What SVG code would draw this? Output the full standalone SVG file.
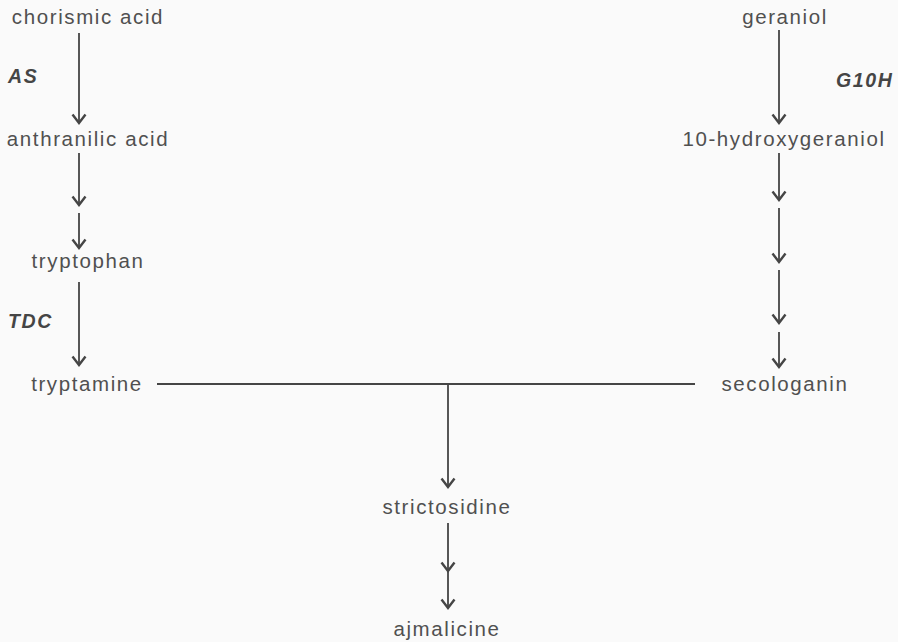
<svg xmlns="http://www.w3.org/2000/svg" width="898" height="642" viewBox="0 0 898 642">
<style>
.t{font-family:"Liberation Sans",Arial,sans-serif;font-size:20.5px;letter-spacing:1.6px;fill:#505050;text-anchor:middle}
.e{font-family:"Liberation Sans",Arial,sans-serif;font-size:19.5px;letter-spacing:1.6px;fill:#454545;font-weight:bold;font-style:italic}
.c{fill:none;stroke:#454545;stroke-width:1.8}
</style>
<defs>
<marker id="ah" markerUnits="userSpaceOnUse" markerWidth="20" markerHeight="20" refX="0" refY="0" orient="auto" overflow="visible">
<path d="M-8.5,-6.5 L0,0 L-8.5,6.5" fill="none" stroke="#454545" stroke-width="2.4" stroke-linejoin="miter"/>
</marker>
</defs>
<rect width="898" height="642" fill="#fafafa"/>
<g id="connectors">
<line class="c" x1="79" y1="33" x2="79" y2="123" marker-end="url(#ah)"/>
<line class="c" x1="79" y1="153" x2="79" y2="205" marker-end="url(#ah)"/>
<line class="c" x1="79" y1="213" x2="79" y2="248" marker-end="url(#ah)"/>
<line class="c" x1="79" y1="282" x2="79" y2="365" marker-end="url(#ah)"/>
<line class="c" x1="779" y1="30" x2="779" y2="123" marker-end="url(#ah)"/>
<line class="c" x1="779" y1="153" x2="779" y2="200" marker-end="url(#ah)"/>
<line class="c" x1="779" y1="208" x2="779" y2="262" marker-end="url(#ah)"/>
<line class="c" x1="779" y1="270" x2="779" y2="323" marker-end="url(#ah)"/>
<line class="c" x1="779" y1="332" x2="779" y2="367" marker-end="url(#ah)"/>
<line class="c" x1="157" y1="384" x2="695" y2="384"/>
<line class="c" x1="448" y1="384" x2="448" y2="487" marker-end="url(#ah)"/>
<polyline class="c" points="448,523 448,571 448,608" marker-mid="url(#ah)" marker-end="url(#ah)"/>
</g>
<g id="chorismic-acid"><text class="t" x="88" y="24">chorismic acid</text></g>
<g id="AS"><text class="e" x="8" y="83">AS</text></g>
<g id="anthranilic-acid"><text class="t" x="88" y="146">anthranilic acid</text></g>
<g id="tryptophan"><text class="t" x="88" y="268">tryptophan</text></g>
<g id="TDC"><text class="e" x="8" y="328">TDC</text></g>
<g id="tryptamine"><text class="t" x="87" y="391">tryptamine</text></g>
<g id="geraniol"><text class="t" x="785" y="24">geraniol</text></g>
<g id="G10H"><text class="e" x="836" y="87">G10H</text></g>
<g id="hydroxygeraniol"><text class="t" x="784" y="146">10-hydroxygeraniol</text></g>
<g id="secologanin"><text class="t" x="785" y="391">secologanin</text></g>
<g id="strictosidine"><text class="t" x="447" y="514">strictosidine</text></g>
<g id="ajmalicine"><text class="t" x="447" y="636">ajmalicine</text></g>
</svg>
